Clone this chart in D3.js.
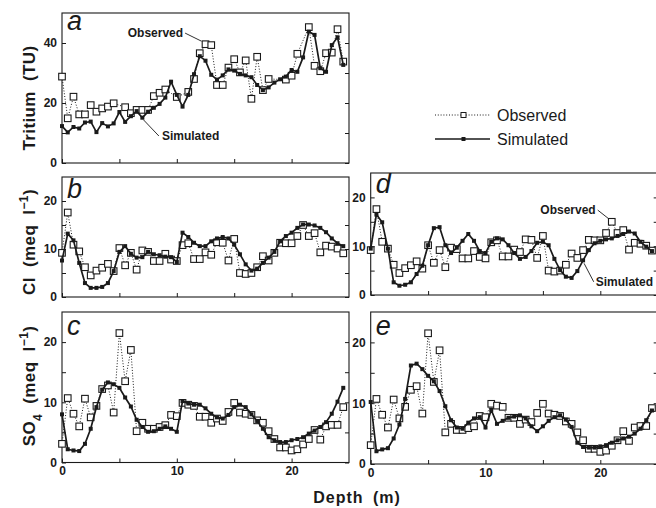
<!DOCTYPE html>
<html>
<head>
<meta charset="utf-8">
<script src="https://cdnjs.cloudflare.com/ajax/libs/d3/7.8.5/d3.min.js"></script>
<style>
  body { margin: 0; background: #fff; }
  svg { display: block; }
  text { font-family: "Liberation Sans", Arial, Helvetica, sans-serif; fill: #1a1a1a; }
</style>
</head>
<body>
<svg id="chart" width="656" height="508"></svg>
<script>
// depth of every sample (m)
const depth = [0, 0.5, 1, 1.5, 2, 2.5, 3, 3.5, 4, 4.5,
  5, 5.5, 6, 6.5, 7, 7.5, 8, 8.5, 9, 9.5,
  10, 10.5, 11, 11.5, 12, 12.5, 13, 13.5, 14, 14.5,
  15, 15.5, 16, 16.5, 17, 17.5, 18, 18.5, 19, 19.5,
  20, 20.5, 21, 21.5, 22, 22.5, 23, 23.5, 24, 24.5];

// tritium (TU), panel a
const tritiumObs = [28.8, 14.9, 22.1, 16.2, 16.2, 19.3, 17.1, 18.2, 18.8, 19.9,
  null, 18.6, 16.6, 17.7, 17.7, 17.7, 22.3, 23.4, 24.5, null,
  22, null, 23.7, 28, 36.6, 39.6, 39.3, 26, 26, 31.8,
  34.6, 30.2, 34.2, 21.4, 35.4, 24.3, 28, null, null, 27.8,
  29.1, 36.4, null, 45.3, 32.4, 30.6, 36.6, 36.8, 44.6, 33.8];
const tritiumSim = [12.3, 10.2, 12, 11.5, 13.5, 13.8, 10.3, 13.3, 12.2, 13.2,
  17, 13.7, 15.6, 17.3, 15.1, 17.1, 18.4, 19.7, 21.8, 27.1,
  22.7, 18.8, 22.7, 29.6, 35.6, 34.1, 29.4, 27.8, 29.2, 31.2,
  30.8, 29.7, 29.2, 28.6, 26, 24.3, 25.2, 26.8, 27.9, 28.8,
  31, 30.4, 35.2, 43.8, 42.7, 31.6, 30.4, 39.3, 41.9, 32.7];

// chloride (meq/l), panels b and d
const clObs = [9.2, 17.6, 10.9, 9.5, 6.2, 4.5, 5.5, 6.1, 6.9, 5.4,
  10.2, 6.6, 9.2, 5.7, 9.7, 9.4, 7.5, 7.5, 9.0, 7.8,
  7.5, 10.8, 11.2, 7.9, 7.9, 9.3, 8.8, 11.4, 11.3, 7.6,
  12.1, 5.0, 4.8, 5.0, 6.2, 8.5, 7.6, 9.2, 11.3, 11.2,
  11.2, 12.7, 15, 12.7, 13.3, 9.3, 10.7, 10.5, 10.1, 9.1];
const clSimB = [7.6, 13.2, 11.8, 7.1, 2.9, 1.9, 1.9, 2.1, 2.9, 5.4,
  9.4, 10.6, 9.0, 8.2, 8.3, 9.4, 8.9, 8.7, 8.4, 8.3,
  7.3, 13.4, 12.5, 11.3, 10.6, 10.6, 11.6, 12.2, 12.5, 12.2,
  10.9, 8.9, 6.8, 5.5, 5.9, 7.1, 8.2, 9.4, 11.6, 12.7,
  13.4, 14.4, 15.1, 15.1, 14.9, 14.4, 13.5, 12.2, 11.2, 10.6];
const clSimD = [9.5, 16.5, 14.9, 9.5, 2.6, 1.9, 2.1, 2.6, 4.3, 6.0,
  10.2, 13.7, 13.9, 10.2, 8.6, 9.7, 11.1, 12.5, 11.1, 9.0,
  8.6, 10.9, 11.6, 11.4, 10.2, 8.6, 7.4, 7.8, 9.0, 10.7,
  10.9, 10.2, 7.4, 5.1, 3.75, 3.5, 4.9, 7.1, 9.2, 10.6,
  11.1, 11.4, 11.6, 12.1, 12.5, 13.0, 12.6, 10.9, 9.9, 9.0];

// sulphate (meq/l), panels c and e
const so4Obs = [3.1, 10.7, 8.1, 6.0, 10.6, 7.5, 9.4, 12.2, 12.8, 8.3,
  21.5, 13.5, 18.7, 5.2, 6.6, 5.6, 5.6, 5.9, 6.2, 7.9,
  7.7, 9.9, 9.6, 9.4, 7.6, 7.6, 6.6, 7.3, 6.9, 8.4,
  9.9, 8.3, 8.1, 7.9, 7.0, 6.6, 5.2, 3.9, 2.5, 2.5,
  2.0, 2.2, 3.0, 3.9, 5.4, 3.8, 6.0, 6.25, 6.25, 9.2];
const so4SimC = [8.0, 2.2, 2.0, 1.9, 3.1, 5.6, 9.2, 12.1, 13.3, 13.0,
  12.4, 10.8, 9.3, 7.1, 5.9, 5.1, 5.2, 5.6, 6.0, 5.6,
  5.1, 10.2, 9.8, 9.6, 9.6, 9.0, 8.1, 7.5, 7.3, 7.9,
  9.2, 9.6, 9.2, 8.0, 6.9, 5.6, 4.2, 3.7, 3.4, 3.4,
  3.7, 3.9, 4.2, 4.8, 5.3, 5.9, 6.7, 8.1, 10.1, 12.4];
const so4SimE = [10.2, 2.1, 2.4, 2.6, 4.2, 6.5, 10.7, 16.2, 16.5, 15.6,
  14.5, 13.6, 12.0, 9.5, 7.2, 6.0, 5.8, 6.8, 7.5, 7.7,
  6.0, 8.9, 6.6, 7.1, 7.6, 7.8, 8.0, 7.5, 6.2, 5.4,
  6.2, 7.1, 7.7, 8.0, 7.3, 6.1, 3.5, 2.8, 2.7, 2.7,
  2.9, 3.1, 3.5, 3.9, 4.2, 4.5, 5.0, 5.8, 7.2, 8.8];

// ticks
const depthTicks = [0, 5, 10, 15, 20];
const depthLabels = [0, 10, 20];
const tritiumTicks = [0, 10, 20, 30, 40];
const tritiumLabels = [0, 20, 40];
const ionTicks = [0, 5, 10, 15, 20];
const ionLabels = [0, 10, 20];

const ink = "#1a1a1a";
const svg = d3.select("#chart");

function panel(o) {
  const x = d3.scaleLinear().domain([0, 25]).range([o.left, o.left + 287]);
  const y = d3.scaleLinear().domain([0, o.yMax]).range([o.bottom, o.top]);
  const g = svg.append("g");

  g.append("rect")
    .attr("x", o.left).attr("y", o.top)
    .attr("width", 287).attr("height", o.bottom - o.top)
    .attr("fill", "none").attr("stroke", ink).attr("stroke-width", 1.1);

  const yAxis = d3.axisLeft(y).tickValues(o.yTicks).tickSize(-4).tickPadding(5)
    .tickFormat(d => o.yLabels.includes(d) ? d : "");
  const ya = g.append("g").attr("transform", `translate(${o.left},0)`).call(yAxis);
  const yr = g.append("g").attr("transform", `translate(${o.left + 287},0)`)
    .call(d3.axisRight(y).tickValues(o.yTicks).tickSize(-4).tickFormat(""));
  const xAxis = d3.axisBottom(x).tickValues(depthTicks).tickSize(-4).tickPadding(4)
    .tickFormat(d => o.xLabels && depthLabels.includes(d) ? d : "");
  const xa = g.append("g").attr("transform", `translate(0,${o.bottom})`).call(xAxis);

  [ya, yr, xa].forEach(a => {
    a.select(".domain").remove();
    a.selectAll("line").attr("stroke", ink).attr("stroke-width", 1);
    a.selectAll("text").attr("font-size", 12).attr("font-weight", "bold").attr("fill", ink)
      .attr("font-family", '"Liberation Sans", Arial, sans-serif');
  });

  const obs = depth.map((d, i) => ({ d, v: o.obs[i] })).filter(p => p.v != null);
  const sim = depth.map((d, i) => ({ d, v: o.sim[i] }));
  const line = d3.line().x(p => x(p.d)).y(p => y(p.v));

  const clip = "clip" + o.letter;
  svg.append("clipPath").attr("id", clip).append("rect")
    .attr("x", o.left - 6).attr("y", o.top - 8).attr("width", 300).attr("height", o.bottom - o.top + 14);
  const plot = g.append("g").attr("clip-path", `url(#${clip})`);

  plot.append("path").datum(obs).attr("d", line)
    .attr("fill", "none").attr("stroke", ink).attr("stroke-width", 1)
    .attr("stroke-dasharray", "1,1.8");
  plot.selectAll(".obs").data(obs).enter().append("rect").attr("class", "obs")
    .attr("x", p => x(p.d) - 3.3).attr("y", p => y(p.v) - 3.3)
    .attr("width", 6.6).attr("height", 6.6)
    .attr("fill", "#fff").attr("stroke", ink).attr("stroke-width", 1.1);
  plot.append("path").datum(sim).attr("d", line)
    .attr("fill", "none").attr("stroke", ink).attr("stroke-width", 1.7);
  plot.selectAll(".sim").data(sim).enter().append("rect").attr("class", "sim")
    .attr("x", p => x(p.d) - 2).attr("y", p => y(p.v) - 2)
    .attr("width", 4).attr("height", 4).attr("fill", ink);

  g.append("text").attr("x", o.left + 5).attr("y", o.letterY)
    .attr("font-family", '"Liberation Serif", "Times New Roman", serif')
    .attr("font-style", "italic").attr("font-size", 27).text(o.letter);

  return { x, y, g };
}

const a = panel({ left: 62, top: 13, bottom: 163, yMax: 50, yTicks: tritiumTicks, yLabels: tritiumLabels,
  obs: tritiumObs, sim: tritiumSim, letter: "a", letterY: 30, xLabels: false });
const b = panel({ left: 62, top: 177, bottom: 297, yMax: 25, yTicks: ionTicks, yLabels: ionLabels,
  obs: clObs, sim: clSimB, letter: "b", letterY: 198, xLabels: false });
const c = panel({ left: 62, top: 312, bottom: 462.5, yMax: 25, yTicks: ionTicks, yLabels: ionLabels,
  obs: so4Obs, sim: so4SimC, letter: "c", letterY: 335, xLabels: true });
const d = panel({ left: 370.7, top: 173, bottom: 295, yMax: 25, yTicks: ionTicks, yLabels: ionLabels,
  obs: clObs, sim: clSimD, letter: "d", letterY: 193, xLabels: false });
const e = panel({ left: 370.7, top: 312, bottom: 464, yMax: 25, yTicks: ionTicks, yLabels: ionLabels,
  obs: so4Obs, sim: so4SimE, letter: "e", letterY: 335, xLabels: true });

// in-panel labels with leader lines
function note(p, label, tx, ty, anchor, fromX, toD, toV, dx, dy) {
  p.g.append("text").attr("x", p.x(tx)).attr("y", p.y(ty)).attr("dy", "0.35em")
    .attr("text-anchor", anchor).attr("font-size", 12).attr("font-weight", "bold").text(label);
  p.g.append("line")
    .attr("x1", p.x(tx) + fromX).attr("y1", p.y(ty))
    .attr("x2", p.x(toD) + dx).attr("y2", p.y(toV) + dy)
    .attr("stroke", ink).attr("stroke-width", 0.9);
}
note(a, "Observed", 10.55, 43.3, "end", 2, 12.5, 39.6, -4, -3);
note(a, "Simulated", 8.7, 9, "start", -3, 7.0, 15.1, 1, 2);
note(d, "Observed", 19.6, 17.4, "end", 2, 21.0, 15, -3, -3);
note(d, "Simulated", 19.6, 2.7, "start", -2, 18.5, 7.1, 1, 3);

// legend
const legend = svg.append("g").attr("transform", "translate(435,115)");
legend.append("line").attr("x1", 0).attr("x2", 55).attr("y1", 0).attr("y2", 0)
  .attr("stroke", ink).attr("stroke-width", 1).attr("stroke-dasharray", "1,1.8");
legend.append("rect").attr("x", 26).attr("y", -2.5).attr("width", 5).attr("height", 5)
  .attr("fill", "#fff").attr("stroke", ink).attr("stroke-width", 1);
legend.append("text").attr("x", 62).attr("y", 0).attr("dy", "0.36em").attr("font-size", 16).text("Observed");
legend.append("line").attr("x1", 0).attr("x2", 55).attr("y1", 24).attr("y2", 24)
  .attr("stroke", ink).attr("stroke-width", 1.6);
legend.append("rect").attr("x", 26.5).attr("y", 22).attr("width", 4).attr("height", 4).attr("fill", ink);
legend.append("text").attr("x", 62).attr("y", 24).attr("dy", "0.36em").attr("font-size", 16).text("Simulated");

// axis titles
function yTitle(cx, cy, parts) {
  const t = svg.append("text").attr("transform", `translate(${cx},${cy}) rotate(-90)`)
    .attr("text-anchor", "middle").attr("font-size", 17).attr("font-weight", "bold")
    .attr("word-spacing", 5).attr("letter-spacing", 0.4);
  parts.forEach(([s, shift]) => {
    const sp = t.append("tspan").text(s);
    if (shift) sp.attr("baseline-shift", shift).attr("font-size", 12);
  });
}
yTitle(35, 98, [["Tritium (TU)"]]);
yTitle(35, 242, [["Cl (meq l"], ["\u22121", "super"], [")"]]);
yTitle(35, 386, [["SO"], ["4", "sub"], [" (meq l"], ["\u22121", "super"], [")"]]);

svg.append("text").attr("x", 357).attr("y", 503).attr("text-anchor", "middle")
  .attr("font-size", 16).attr("font-weight", "bold").attr("letter-spacing", 1).attr("word-spacing", 4)
  .text("Depth (m)");
</script>
</body>
</html>
